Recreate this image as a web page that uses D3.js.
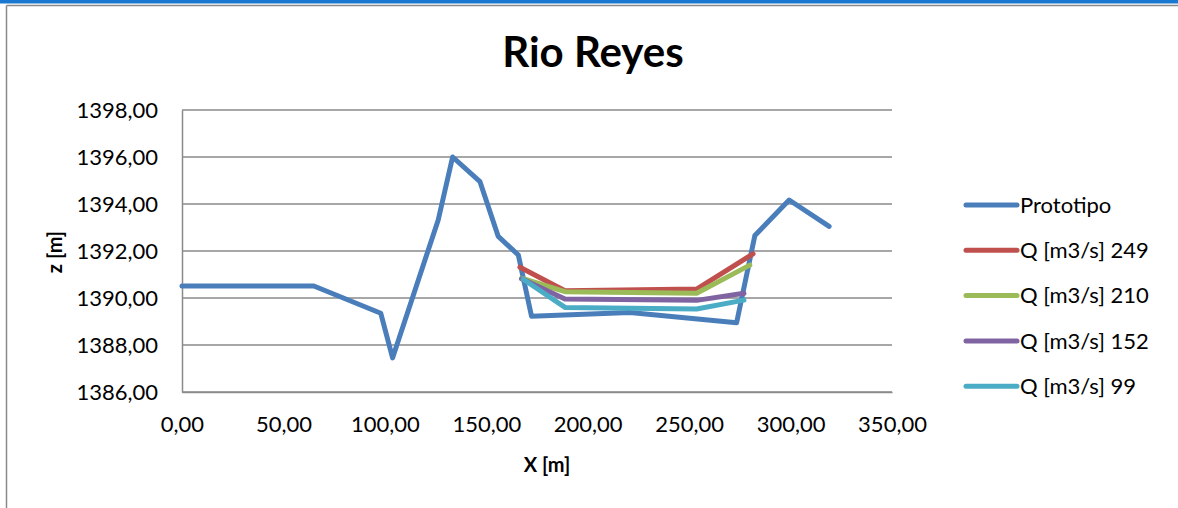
<!DOCTYPE html>
<html>
<head>
<meta charset="utf-8">
<script src="https://cdn.jsdelivr.net/npm/d3@7"></script>
<style>
  html, body { margin: 0; padding: 0; background: #fff; }
  svg { display: block; }
  text { font-family: Lato, "Open Sans", sans-serif; fill: #000; }
</style>
</head>
<body>
<svg id="chart" width="1178" height="508"></svg>
<script>
// Cross-section of Rio Reyes: terrain profile and water surfaces for several discharges
const prototipoX = [0, 65, 98, 103.8, 126.3, 133.4, 146.9, 155.9, 165.8, 172.3, 220.8, 273.4, 282.4, 299.3, 319];
const prototipoZ = [1390.51, 1390.51, 1389.35, 1387.45, 1393.32, 1396.0, 1394.95, 1392.62, 1391.83, 1389.22, 1389.38, 1388.95, 1392.66, 1394.17, 1393.05];

const q249X = [166.6, 188.8, 253.7, 281.5];
const q249Z = [1391.31, 1390.31, 1390.38, 1391.88];
const q210X = [167.4, 188.8, 253.7, 279.9];
const q210Z = [1390.84, 1390.27, 1390.20, 1391.40];
const q152X = [167.4, 188.8, 253.7, 277.0];
const q152Z = [1390.82, 1389.96, 1389.90, 1390.20];
const q99X = [168.2, 188.8, 253.7, 277.0];
const q99Z = [1390.80, 1389.60, 1389.53, 1389.91];

const seriesNames = ["Prototipo", "Q [m3/s] 249", "Q [m3/s] 210", "Q [m3/s] 152", "Q [m3/s] 99"];
const seriesColors = ["#4A7EBB", "#C0504D", "#9BBB59", "#8064A2", "#4BACC6"];
const xTicks = [0, 50, 100, 150, 200, 250, 300, 350];
const yTicks = [1386, 1388, 1390, 1392, 1394, 1396, 1398];

const series = [
  [prototipoX, prototipoZ],
  [q249X, q249Z],
  [q210X, q210Z],
  [q152X, q152Z],
  [q99X, q99Z]
].map(([xs, zs], i) => ({
  name: seriesNames[i],
  color: seriesColors[i],
  points: xs.map((x, j) => ({ x, z: zs[j] }))
}));

const svg = d3.select("#chart");
const fmt = v => d3.format(".2f")(v).replace(".", ",");

// Frame: blue strip along the top edge and grey chart border
svg.append("rect").attr("x", 0).attr("y", 0).attr("width", 1178).attr("height", 3.5).attr("fill", "#1A78D0");
svg.append("line").attr("x1", 6.5).attr("x2", 1178).attr("y1", 5.5).attr("y2", 5.5)
  .attr("stroke", "#8a8a8a").attr("stroke-width", 1.5);
svg.append("line").attr("x1", 6.5).attr("x2", 6.5).attr("y1", 5.5).attr("y2", 508)
  .attr("stroke", "#8a8a8a").attr("stroke-width", 1.5);

const plot = { left: 182, right: 892, top: 110, bottom: 392 };
const x = d3.scaleLinear().domain([0, 350]).range([plot.left, plot.right]);
const y = d3.scaleLinear().domain([1386, 1398]).range([plot.bottom, plot.top]);

// Horizontal gridlines
svg.append("g")
  .selectAll("line")
  .data(yTicks)
  .join("line")
  .attr("x1", plot.left).attr("x2", plot.right)
  .attr("y1", d => y(d)).attr("y2", d => y(d))
  .attr("stroke", "#8a8a8a").attr("stroke-width", 1.5);

// Axes
const yAxis = svg.append("g")
  .attr("transform", `translate(${plot.left},0)`)
  .call(d3.axisLeft(y).tickValues(yTicks).tickFormat(fmt).tickSize(0).tickPadding(24));
yAxis.select(".domain").attr("stroke", "#8a8a8a").attr("stroke-width", 1.5);
yAxis.selectAll("text").style("font-size", "22px").attr("dy", "0.35em");

const xAxis = svg.append("g")
  .attr("transform", `translate(0,${plot.bottom})`)
  .call(d3.axisBottom(x).tickValues(xTicks).tickFormat(fmt).tickSize(0).tickPadding(24));
xAxis.select(".domain").attr("stroke", "#8a8a8a").attr("stroke-width", 1.5);
xAxis.selectAll("text").style("font-size", "22px");

// Data lines
const line = d3.line().x(d => x(d.x)).y(d => y(d.z));
svg.append("g")
  .selectAll("path")
  .data(series)
  .join("path")
  .attr("d", d => line(d.points))
  .attr("fill", "none")
  .attr("stroke", d => d.color)
  .attr("stroke-width", 5)
  .attr("stroke-linejoin", "round")
  .attr("stroke-linecap", "round");

// Titles
svg.append("text").attr("x", 593).attr("y", 67).attr("text-anchor", "middle")
  .style("font-size", "42px").style("font-weight", "bold").text("Rio Reyes");
svg.append("text").attr("x", 547).attr("y", 472).attr("text-anchor", "middle")
  .style("font-size", "20px").style("font-weight", "bold").text("X [m]");
svg.append("text").attr("transform", "translate(62,252) rotate(-90)").attr("text-anchor", "middle")
  .style("font-size", "20px").style("font-weight", "bold").text("z [m]");

// Legend
const legend = svg.append("g")
  .selectAll("g")
  .data(series)
  .join("g")
  .attr("transform", (d, i) => `translate(966,${205 + i * 45.3})`);
legend.append("line").attr("x1", 0).attr("x2", 51).attr("y1", 0).attr("y2", 0)
  .attr("stroke", d => d.color).attr("stroke-width", 5).attr("stroke-linecap", "round");
legend.append("text").attr("x", 54).attr("y", 0).attr("dy", "0.35em")
  .style("font-size", "22px").text(d => d.name);
</script>
</body>
</html>
